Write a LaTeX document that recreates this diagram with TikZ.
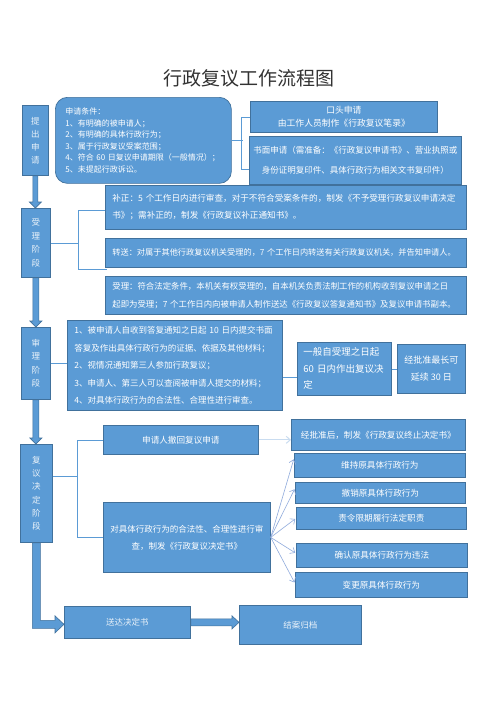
\documentclass[tikz,border=0pt]{standalone}
\usepackage{fontspec}
\setmainfont{Noto Sans CJK SC}
\usetikzlibrary{arrows.meta,calc}
\definecolor{bfill}{HTML}{5B9BD5}
\definecolor{bdr}{HTML}{41719C}
\definecolor{lnk}{HTML}{5B9BD5}
\definecolor{fanc}{HTML}{8FAADC}
\definecolor{pale}{HTML}{C9DCF0}
\newcommand\fz[2]{\fontsize{#1pt}{#2pt}\selectfont}
\pgfdeclarelayer{bg}
\pgfsetlayers{bg,main}
\newcommand\vblk[5]{%
 \draw[blk] ($(#1.south)+(-#3,0)$) -- ($(#1.south|-#2.north)+(-#3,-#5)$) -- ($(#1.south|-#2.north)+(-#4,-#5)$) -- (#1.south|-#2.north) -- ($(#1.south|-#2.north)+(#4,-#5)$) -- ($(#1.south|-#2.north)+(#3,-#5)$) -- ($(#1.south)+(#3,0)$) -- cycle;}
\begin{document}
\begin{tikzpicture}[x=1pt,y=-1pt,
 box/.style={draw=bdr, fill=bfill, text=white, line width=0.7pt, inner sep=0pt, anchor=north west},
 stage/.style={box, align=center, text=white!88!bfill},
 link/.style={draw=lnk, line width=0.7pt},
 fan/.style={draw=fanc, line width=0.6pt, shorten >=1pt, -{Straight Barb[length=4pt,width=7pt]}},
 blk/.style={draw=bdr, fill=bfill, line width=0.6pt, line join=miter}]
\begin{pgfonlayer}{bg}
\fill[white] (0,0) rectangle (496,702);
\end{pgfonlayer}
\useasboundingbox (0,0) rectangle (496,702);

\node[font=\fz{19}{22}, text=black!80] (title) at (249,78) {行政复议工作流程图};

% stage 1
\node[stage, minimum width=26, minimum height=70, font=\fz{8.5}{13}] (s1) at (22,105) {提\\出\\申\\请};
\node[box, rounded corners=12pt, minimum width=176, minimum height=86, text width=156, inner xsep=10pt, align=left, font=\fz{8}{11.5}] (cond) at (55,97) {申请条件：\\1、有明确的被申请人；\\2、有明确的具体行政行为；\\3、属于行政复议受案范围；\\4、符合 60 日复议申请期限（一般情况）；\\5、未提起行政诉讼。};
\node[box, minimum width=187, minimum height=31, align=center, font=\fz{8.8}{12.5}] (oral) at (250,101) {口头申请\\由工作人员制作《行政复议笔录》};
\node[box, minimum width=212, minimum height=48, align=center, font=\fz{8.5}{20}] (written) at (249,136) {书面申请（需准备：《行政复议申请书》、营业执照或\\身份证明复印件、具体行政行为相关文书复印件）};

% stage 2
\node[stage, minimum width=29, minimum height=69, font=\fz{8.5}{13.5}] (s2) at (21,208) {受\\理\\阶\\段};
\node[box, minimum width=361, minimum height=44, text width=347, inner xsep=7pt, align=left, font=\fz{8.6}{17}] (bz) at (105,185) {补正：5 个工作日内进行审查，对于不符合受案条件的，制发《不予受理行政复议申请决定\\书》；需补正的，制发《行政复议补正通知书》。};
\node[box, minimum width=361, minimum height=29, text width=347, inner xsep=7pt, align=left, font=\fz{8.2}{12}] (zs) at (105,238) {转送：对属于其他行政复议机关受理的，7 个工作日内转送有关行政复议机关，并告知申请人。};
\node[box, minimum width=361, minimum height=38, text width=347, inner xsep=7pt, align=left, font=\fz{8.4}{18}] (sl) at (105,276) {受理：符合法定条件，本机关有权受理的，自本机关负责法制工作的机构收到复议申请之日\\起即为受理；7 个工作日内向被申请人制作送达《行政复议答复通知书》及复议申请书副本。};

% stage 3
\node[stage, minimum width=29, minimum height=72, font=\fz{8.5}{13.5}] (s3) at (21,327) {审\\理\\阶\\段};
\node[box, minimum width=215, minimum height=90, text width=201, inner xsep=7pt, align=left, font=\fz{8.5}{17.5}] (rv) at (67,320) {1、被申请人自收到答复通知之日起 10 日内提交书面\\答复及作出具体行政行为的证据、依据及其他材料；\\2、视情况通知第三人参加行政复议；\\3、申请人、第三人可以查阅被申请人提交的材料；\\4、对具体行政行为的合法性、合理性进行审查。};
\node[box, minimum width=94, minimum height=53, text width=82, inner xsep=6pt, align=left, font=\fz{9.5}{16.5}] (g60) at (297,342) {一般自受理之日起\\60 日内作出复议决\\定};
\node[box, minimum width=68, minimum height=49, align=center, font=\fz{9}{17}] (ext) at (397,344) {经批准最长可\\延续 30 日};

% stage 4
\node[stage, minimum width=32, minimum height=98, font=\fz{8.5}{13.2}] (s4) at (20,444) {复\\议\\决\\定\\阶\\段};
\node[box, minimum width=155, minimum height=29, font=\fz{8.6}{12}] (wd) at (103,425) {申请人撤回复议申请};
\node[box, minimum width=174, minimum height=31, font=\fz{8.6}{12}] (wda) at (291,419) {经批准后，制发《行政复议终止决定书》};
\node[box, minimum width=167, minimum height=70, text width=157, align=center, font=\fz{8.5}{17}] (dec) at (103,502) {对具体行政行为的合法性、合理性进行审\\查，制发《行政复议决定书》};
\node[box, minimum width=171, minimum height=24, font=\fz{8.6}{12}] (r1) at (294,453) {维持原具体行政行为};
\node[box, minimum width=170, minimum height=21, font=\fz{8.6}{12}] (r2) at (295,482) {撤销原具体行政行为};
\node[box, minimum width=170, minimum height=22, font=\fz{8.6}{12}] (r3) at (296,507) {责令限期履行法定职责};
\node[box, minimum width=171, minimum height=24, font=\fz{8.6}{12}] (r4) at (296,543) {确认原具体行政行为违法};
\node[box, minimum width=172, minimum height=25, font=\fz{8.6}{12}] (r5) at (295,572) {变更原具体行政行为};

% final
\node[box, minimum width=126, minimum height=32, font=\fz{8.5}{12}, text=white!85!bfill] (sd) at (64,606) {送达决定书};
\node[box, minimum width=122, minimum height=39, font=\fz{8.5}{12}, text=white!85!bfill] (ja) at (239,605) {结案归档};

% thin connectors
\coordinate (rve) at ([yshift=-12pt]rv.east);
\draw[link] (cond.east) -- ++(11,0);
\draw[link] (oral.west) -- ++(-9,0) |- ([yshift=-9pt]written.west);
\draw[link] (s2.east) -- ++(28,0);
\draw[link] ([yshift=-3pt]bz.west) -- ++(-27,0) |- ($(zs.south west)+(2,2)$);
\draw[link] (s3.east) -- (rv.west |- s3.east);
\draw[link] (rve) -- (g60.west |- rve);
\draw[link] (g60.east) -- (ext.west |- g60.east);
\draw[link] ([yshift=17pt]s4.east) -- ++(25,0);
\draw[link] (wd.west) -- ++(-26,0) |- (dec.west);
\draw[draw=pale, line width=1pt, -{Straight Barb[length=4pt,width=7pt]}] (wd.east) -- (wda.west |- wd.east);
\draw[fan] (dec.east) -- ([yshift=7pt]r1.west);
\draw[fan] (dec.east) -- ([yshift=4.5pt]r2.west);
\draw[fan] (dec.east) -- (r3.west);
\draw[fan] (dec.east) -- ([yshift=2pt]r4.west);
\draw[fan] (dec.east) -- ([yshift=1.5pt]r5.west);

% block arrows
\begin{pgfonlayer}{bg}
\vblk{s1}{s2}{2.5}{6}{6}
\vblk{s2}{s3}{3}{6}{6}
\vblk{s3}{s4}{3}{6}{6}
\coordinate (sdw) at ([yshift=-2pt]sd.west);
\coordinate (lc) at (s4.south |- sdw);
\draw[blk] ($(s4.south)+(-4,0)$) -- ($(lc)+(-4,4)$) -- ($(sdw)+(-9,4)$) -- ($(sdw)+(-9,8.5)$) -- (sdw) -- ($(sdw)+(-9,-8.5)$) -- ($(sdw)+(-9,-4)$) -- ($(lc)+(4,-4)$) -- ($(s4.south)+(4,0)$) -- cycle;
\coordinate (ja1) at (ja.west |- sd.east);
\draw[blk] ($(sd.east)+(0,-3.5)$) -- ($(ja1)+(-7,-3.5)$) -- ($(ja1)+(-7,-6.5)$) -- (ja1) -- ($(ja1)+(-7,6.5)$) -- ($(ja1)+(-7,3.5)$) -- ($(sd.east)+(0,3.5)$) -- cycle;
\end{pgfonlayer}
\end{tikzpicture}
\end{document}
